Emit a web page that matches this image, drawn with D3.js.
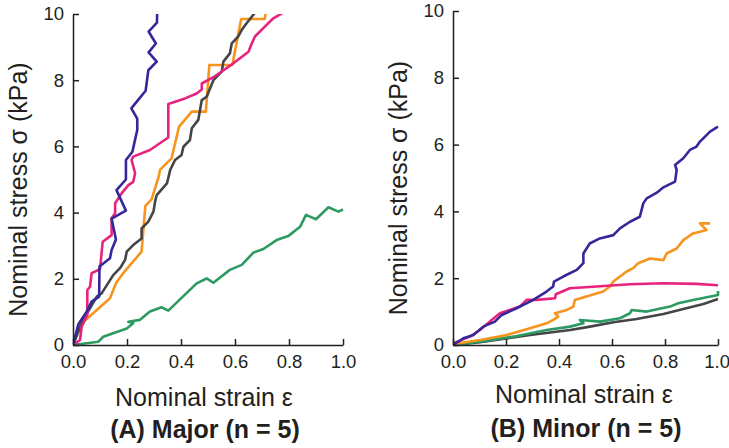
<!DOCTYPE html>
<html>
<head>
<meta charset="utf-8">
<script src="https://cdn.jsdelivr.net/npm/d3@7"></script>
<style>
  body { margin: 0; background: #fff; }
  svg { display: block; }
  .axis path, .axis line { stroke: #231f20; stroke-width: 1.5px; }
  .axis text { font-family: "Liberation Sans", Arial, sans-serif; font-size: 18.5px; fill: #231f20; }
  .title { font-family: "Liberation Sans", Arial, sans-serif; font-size: 25px; fill: #231f20; }
  .sub { font-family: "Liberation Sans", Arial, sans-serif; font-size: 25px; font-weight: bold; fill: #231f20; }
  .curve { fill: none; stroke-width: 2.6px; stroke-linejoin: round; }
</style>
</head>
<body>
<svg id="chart" width="729" height="448"></svg>
<script>
// tick values
var xTicks = [0, 0.2, 0.4, 0.6, 0.8, 1.0];
var yTicks = [0, 2, 4, 6, 8, 10];
var subtitles = ["(A) Major (n = 5)", "(B) Minor (n = 5)"];
var xTitle = "Nominal strain \u03b5";
var yTitle = "Nominal stress \u03c3 (kPa)";

// colours of the five specimens
var seriesNames = ["blue", "magenta", "orange", "gray", "green"];
var seriesColors = ["#35289a", "#e8237d", "#f7941d", "#454545", "#2e9a63"];

// panel A, major axis: [strain, stress]
var majorBlue = [[0,0],[0.02,0.63],[0.05,1.0],[0.069,1.31],[0.097,1.46],[0.098,2.37],[0.137,2.62],[0.143,2.87],[0.159,3.19],[0.143,3.82],[0.196,4.06],[0.161,4.68],[0.196,5.0],[0.196,5.59],[0.22,5.84],[0.238,6.5],[0.238,6.84],[0.216,7.15],[0.246,7.45],[0.269,7.68],[0.279,8.3],[0.31,8.56],[0.28,8.84],[0.307,9.11],[0.28,9.47],[0.311,9.74],[0.312,10.2]];
var majorMagenta = [[0,0],[0.026,0.15],[0.032,0.55],[0.053,0.91],[0.053,1.66],[0.063,1.76],[0.069,2.17],[0.1,2.29],[0.11,3.12],[0.143,3.32],[0.143,3.83],[0.156,3.98],[0.156,4.28],[0.18,4.58],[0.205,4.83],[0.223,4.93],[0.23,5.19],[0.217,5.59],[0.223,5.69],[0.285,5.89],[0.353,6.27],[0.353,7.28],[0.415,7.45],[0.458,7.6],[0.477,7.72],[0.477,7.9],[0.52,8.09],[0.594,8.51],[0.65,8.86],[0.662,9.11],[0.674,9.32],[0.717,9.67],[0.742,9.87],[0.78,10.05]];
var majorOrange = [[0,0],[0.026,0.6],[0.088,1.06],[0.137,1.41],[0.16,1.88],[0.186,2.17],[0.254,2.82],[0.268,4.2],[0.291,4.4],[0.318,5.1],[0.322,5.29],[0.365,5.64],[0.393,6.6],[0.44,7.05],[0.492,7.05],[0.505,8.46],[0.59,8.46],[0.623,9.85],[0.71,9.85],[0.717,10.2]];
var majorGray = [[0,0],[0.038,0.76],[0.088,1.46],[0.106,1.56],[0.149,2.11],[0.174,2.32],[0.193,2.57],[0.199,2.82],[0.223,3.02],[0.254,3.22],[0.254,3.52],[0.279,3.73],[0.298,4.03],[0.304,4.33],[0.31,4.53],[0.348,4.88],[0.36,5.29],[0.378,5.59],[0.402,5.74],[0.409,5.99],[0.433,6.19],[0.44,6.55],[0.464,6.8],[0.477,7.4],[0.495,7.5],[0.52,8.0],[0.551,8.26],[0.557,8.56],[0.581,8.81],[0.588,9.11],[0.612,9.32],[0.625,9.52],[0.643,9.72],[0.68,10.1]];
var majorGreen = [[0,0],[0.094,0.1],[0.112,0.25],[0.199,0.5],[0.223,0.66],[0.205,0.7],[0.248,0.76],[0.285,1.01],[0.328,1.14],[0.353,1.04],[0.458,1.86],[0.495,2.01],[0.52,1.88],[0.581,2.27],[0.625,2.42],[0.668,2.79],[0.705,2.9],[0.754,3.17],[0.797,3.29],[0.841,3.57],[0.863,3.93],[0.9,3.8],[0.946,4.16],[0.983,4.03],[1.0,4.1]];

// panel B, minor axis: [strain, stress]
var minorBlue = [[0,0],[0.039,0.2],[0.077,0.3],[0.114,0.55],[0.158,0.7],[0.184,0.9],[0.24,1.1],[0.303,1.35],[0.353,1.6],[0.378,1.75],[0.381,1.9],[0.416,2.05],[0.467,2.25],[0.492,2.45],[0.492,2.74],[0.516,3.04],[0.554,3.19],[0.605,3.29],[0.63,3.49],[0.668,3.69],[0.705,3.84],[0.718,4.24],[0.731,4.39],[0.769,4.56],[0.794,4.72],[0.838,4.89],[0.844,5.24],[0.838,5.39],[0.869,5.59],[0.894,5.84],[0.919,5.94],[0.932,6.09],[0.951,6.24],[0.97,6.39],[1.0,6.54]];
var minorMagenta = [[0,0.05],[0.064,0.25],[0.102,0.45],[0.146,0.75],[0.177,0.95],[0.214,1.05],[0.252,1.15],[0.278,1.35],[0.316,1.35],[0.385,1.4],[0.388,1.52],[0.441,1.7],[0.542,1.75],[0.668,1.82],[0.794,1.85],[0.919,1.83],[1.0,1.79]];
var minorOrange = [[0,0.03],[0.102,0.15],[0.203,0.3],[0.291,0.5],[0.353,0.65],[0.378,0.75],[0.397,0.85],[0.385,0.95],[0.429,1.05],[0.454,1.15],[0.46,1.35],[0.503,1.45],[0.567,1.6],[0.592,1.75],[0.605,1.9],[0.63,2.05],[0.655,2.2],[0.68,2.3],[0.699,2.45],[0.743,2.59],[0.794,2.54],[0.806,2.74],[0.844,2.89],[0.869,3.14],[0.906,3.34],[0.957,3.44],[0.932,3.64],[0.97,3.64]];
var minorGray = [[0,0],[0.102,0.08],[0.291,0.3],[0.442,0.45],[0.517,0.55],[0.605,0.68],[0.693,0.78],[0.794,0.93],[0.869,1.08],[0.945,1.23],[1.0,1.38]];
var minorGreen = [[0,0],[0.102,0.1],[0.228,0.25],[0.353,0.45],[0.442,0.55],[0.492,0.65],[0.479,0.75],[0.555,0.7],[0.63,0.8],[0.668,0.95],[0.674,1.05],[0.731,1.0],[0.819,1.15],[0.85,1.25],[0.906,1.35],[1.0,1.5],[1.0,1.62]];

var panels = [
  {left: 73, right: 343, top: 14, bottom: 345, yTitleX: 18, xTitleX: 204, xTitleY: 406, subX: 205, subY: 438,
   series: [majorGreen, majorOrange, majorGray, majorMagenta, majorBlue],
   colors: [seriesColors[4], seriesColors[2], seriesColors[3], seriesColors[1], seriesColors[0]]},
  {left: 453, right: 718, top: 11, bottom: 345, yTitleX: 398, xTitleX: 584, xTitleY: 403, subX: 586, subY: 437,
   series: [minorGray, minorGreen, minorOrange, minorMagenta, minorBlue],
   colors: [seriesColors[3], seriesColors[4], seriesColors[2], seriesColors[1], seriesColors[0]]}
];

var svg = d3.select("#chart");

panels.forEach(function(p, k) {
  var x = d3.scaleLinear().domain([0, 1]).range([p.left, p.right]);
  var y = d3.scaleLinear().domain([0, 10]).range([p.bottom, p.top]);

  svg.append("defs").append("clipPath")
    .attr("id", "clip" + k)
    .append("rect")
    .attr("x", p.left).attr("y", p.top)
    .attr("width", p.right - p.left + 4)
    .attr("height", p.bottom - p.top);

  var line = d3.line()
    .x(function(d) { return x(d[0]); })
    .y(function(d) { return y(d[1]); });

  var g = svg.append("g").attr("clip-path", "url(#clip" + k + ")");
  p.series.forEach(function(s, i) {
    g.append("path")
      .datum(s)
      .attr("class", "curve")
      .attr("stroke", p.colors[i])
      .attr("d", line);
  });

  var xAxis = svg.append("g")
    .attr("class", "axis")
    .attr("transform", "translate(0," + p.bottom + ")")
    .call(d3.axisBottom(x).tickValues(xTicks).tickFormat(d3.format(".1f"))
      .tickSizeInner(-6).tickSizeOuter(0).tickPadding(10));
  // last label on the right panel sits against the page edge
  if (k == 1) {
    xAxis.selectAll(".tick text").filter(function(d) { return d == 1; })
      .attr("text-anchor", "end").attr("dx", "0.62em");
  }

  svg.append("g")
    .attr("class", "axis")
    .attr("transform", "translate(" + p.left + ",0)")
    .call(d3.axisLeft(y).tickValues(yTicks).tickFormat(d3.format("d"))
      .tickSizeInner(-6).tickSizeOuter(0).tickPadding(9));

  svg.append("text")
    .attr("class", "title")
    .attr("text-anchor", "middle")
    .attr("transform", "translate(" + (p.yTitleX + 9) + "," + ((p.top + p.bottom) / 2 + 10) + ") rotate(-90)")
    .text(yTitle);

  svg.append("text")
    .attr("class", "title")
    .attr("text-anchor", "middle")
    .attr("x", p.xTitleX).attr("y", p.xTitleY)
    .text(xTitle);

  svg.append("text")
    .attr("class", "sub")
    .attr("text-anchor", "middle")
    .attr("x", p.subX).attr("y", p.subY)
    .text(subtitles[k]);
});
</script>
</body>
</html>
